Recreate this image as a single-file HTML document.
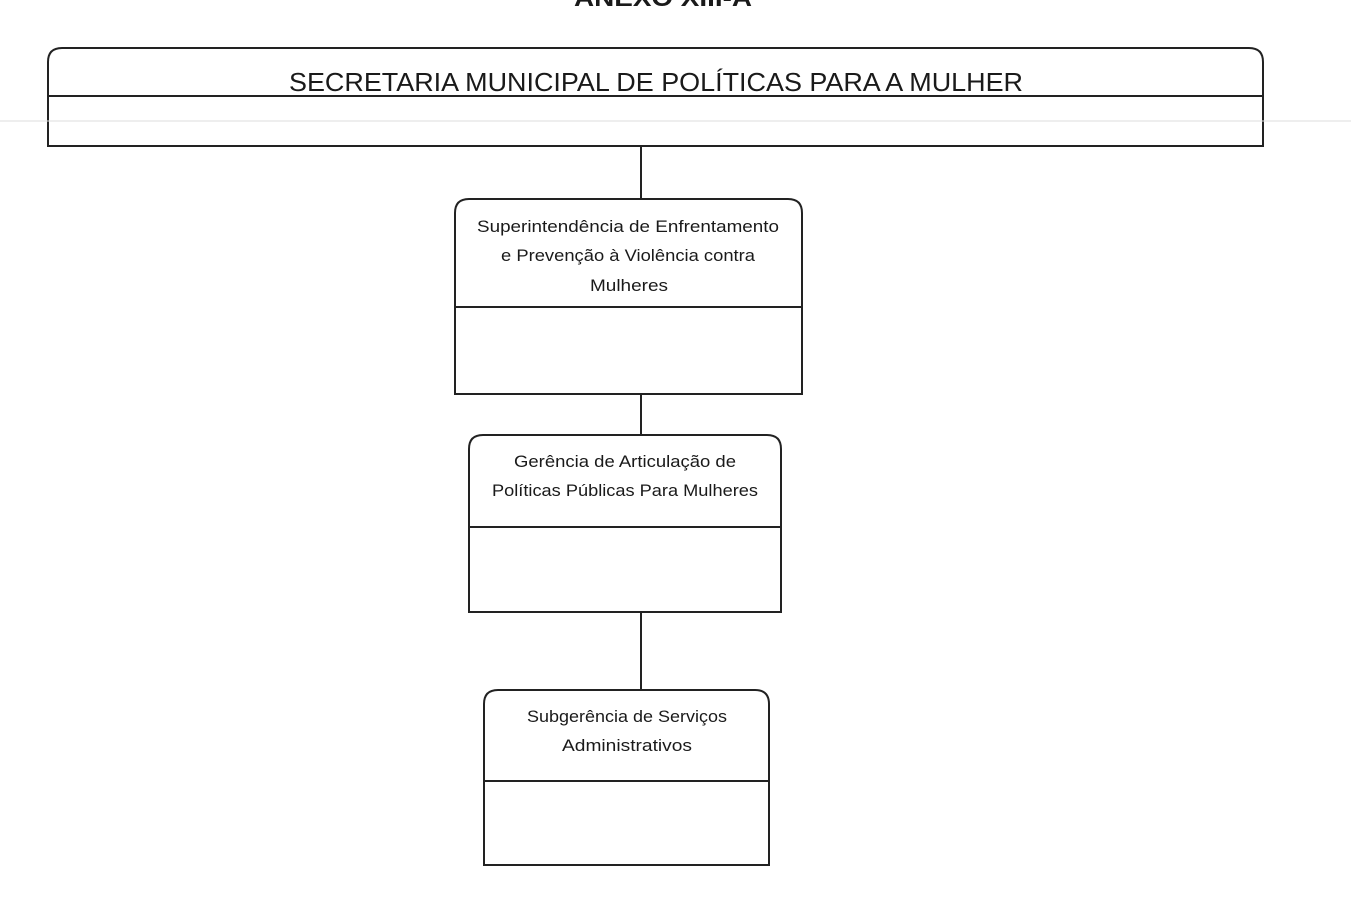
<!DOCTYPE html>
<html><head><meta charset="utf-8"><style>
html,body{margin:0;padding:0;background:#fff;width:1351px;height:904px;overflow:hidden}
svg{display:block}
text{font-family:"Liberation Sans",sans-serif;fill:#1a1a1a}
</style></head><body>
<svg width="1351" height="904" viewBox="0 0 1351 904" xmlns="http://www.w3.org/2000/svg">
<text x="663" y="6" font-size="24" font-weight="bold" text-anchor="middle" textLength="178" lengthAdjust="spacingAndGlyphs">ANEXO XIII-A</text>
<g fill="none" stroke="#222" stroke-width="2">
<path d="M48,146 V62 Q48,48 62,48 H1249 Q1263,48 1263,62 V146 Z"/>
<line x1="48" y1="96" x2="1263" y2="96"/>
<line x1="641" y1="146" x2="641" y2="199"/>
<path d="M455,394 V213 Q455,199 469,199 H788 Q802,199 802,213 V394 Z"/>
<line x1="455" y1="307" x2="802" y2="307"/>
<line x1="641" y1="394" x2="641" y2="435"/>
<path d="M469,612 V449 Q469,435 483,435 H767 Q781,435 781,449 V612 Z"/>
<line x1="469" y1="527" x2="781" y2="527"/>
<line x1="641" y1="612" x2="641" y2="690"/>
<path d="M484,865 V704 Q484,690 498,690 H755 Q769,690 769,704 V865 Z"/>
<line x1="484" y1="781" x2="769" y2="781"/>
</g>
<line x1="0" y1="121" x2="1351" y2="121" stroke="#ddd" stroke-width="1"/>
<text x="656" y="91" font-size="26" text-anchor="middle" textLength="734" lengthAdjust="spacingAndGlyphs">SECRETARIA MUNICIPAL DE POLÍTICAS PARA A MULHER</text>
<g font-size="17" text-anchor="middle">
<text x="628" y="232" textLength="302" lengthAdjust="spacingAndGlyphs">Superintendência de Enfrentamento</text>
<text x="628" y="261" textLength="254" lengthAdjust="spacingAndGlyphs">e Prevenção à Violência contra</text>
<text x="629" y="291" textLength="78" lengthAdjust="spacingAndGlyphs">Mulheres</text>
<text x="625" y="467" textLength="222" lengthAdjust="spacingAndGlyphs">Gerência de Articulação de</text>
<text x="625" y="496" textLength="266" lengthAdjust="spacingAndGlyphs">Políticas Públicas Para Mulheres</text>
<text x="627" y="722" textLength="200" lengthAdjust="spacingAndGlyphs">Subgerência de Serviços</text>
<text x="627" y="751" textLength="130" lengthAdjust="spacingAndGlyphs">Administrativos</text>
</g>
</svg>
</body></html>
